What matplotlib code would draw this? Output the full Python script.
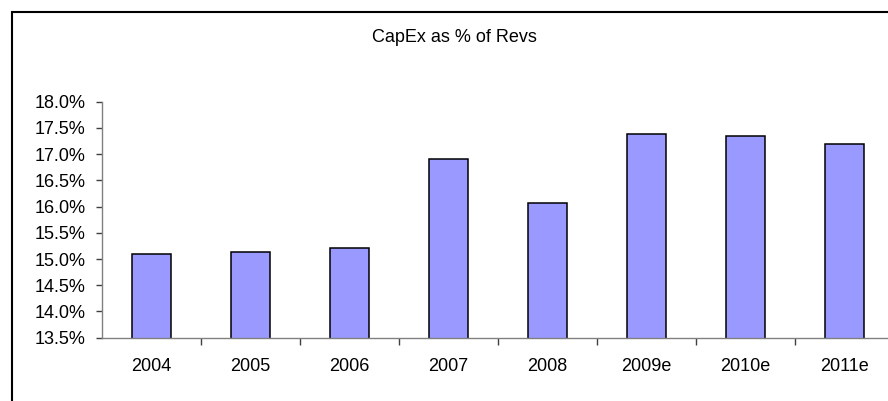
import matplotlib
matplotlib.use("Agg")
import matplotlib.pyplot as plt
from matplotlib.patches import Rectangle
from matplotlib.ticker import FuncFormatter, FixedLocator

years = ["2004", "2005", "2006", "2007", "2008", "2009e", "2010e", "2011e"]
capex_pct = [15.10, 15.14, 15.21, 16.91, 16.07, 17.39, 17.35, 17.19]
y_ticks = [13.5, 14.0, 14.5, 15.0, 15.5, 16.0, 16.5, 17.0, 17.5, 18.0]

plt.rcParams["font.family"] = ["Liberation Sans", "DejaVu Sans"]

W, H = 888, 401
fig = plt.figure(figsize=(W / 100, H / 100), dpi=100)

# plot area runs a bit past the right edge, like the cropped original
left, right = 102, 894
top, bottom = 101.7, 337.7
ax = fig.add_axes([left / W, (H - bottom) / H, (right - left) / W, (bottom - top) / H])

x = range(len(years))
ax.bar(x, capex_pct, width=0.4, color="#9999FF", edgecolor="black", linewidth=1.1)

ax.set_xlim(-0.5, len(years) - 0.5)
ax.set_ylim(13.5, 18.0)
ax.set_yticks(y_ticks)
ax.yaxis.set_major_formatter(FuncFormatter(lambda v, _: f"{v:.1f}%"))

ax.set_xticks(list(x))
ax.set_xticklabels(years)
ax.xaxis.set_minor_locator(FixedLocator([i + 0.5 for i in range(len(years) - 1)]))
ax.tick_params(axis="x", which="major", length=0, pad=14.5, labelsize=13)
ax.tick_params(axis="x", which="minor", length=5, width=1, color="#404040", direction="out")
ax.tick_params(axis="y", length=4, width=1, color="#404040", direction="out", pad=8, labelsize=13)

for side in ("top", "right"):
    ax.spines[side].set_visible(False)
for side in ("left", "bottom"):
    ax.spines[side].set_color("#808080")
    ax.spines[side].set_linewidth(1)

# outer chart frame (only left and top edges are in view)
fig.add_artist(Rectangle((12 / W, -0.2), 1.2, (H - 12) / H + 0.2,
                         transform=fig.transFigure, fill=False,
                         edgecolor="black", linewidth=1.5))

fig.text(454 / W, (H - 38) / H, "CapEx as % of Revs", ha="center", va="center", fontsize=13)

fig.savefig("out.png", dpi=100)
